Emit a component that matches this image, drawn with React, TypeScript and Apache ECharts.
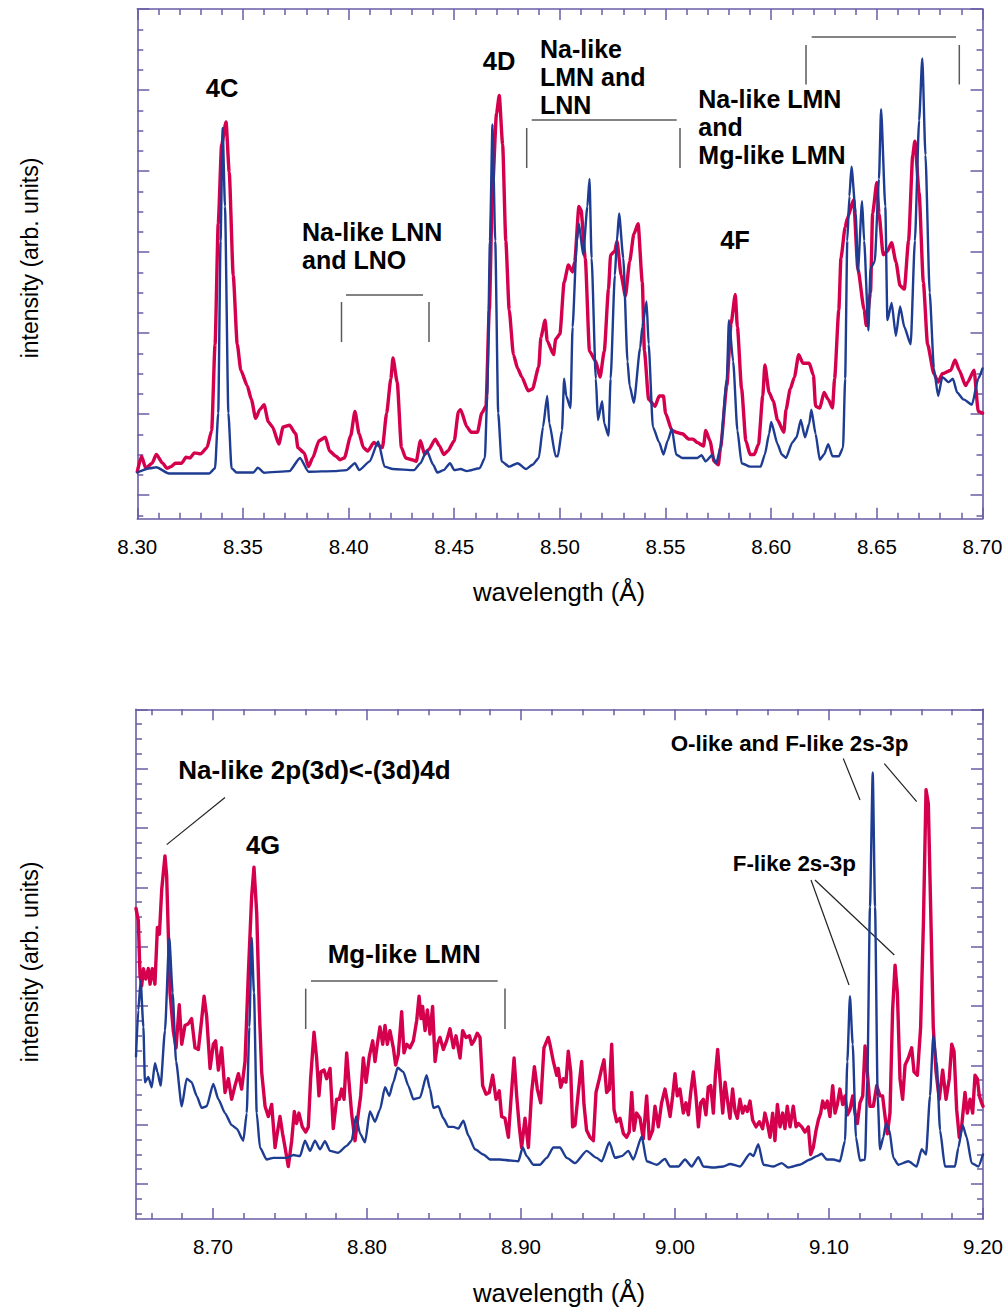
import React, { useEffect, useRef } from "react";
import * as echarts from "echarts";

// ---------- DATA (wavelength in Å, intensity in arbitrary units) ----------
const topXLabels = [8.3, 8.35, 8.4, 8.45, 8.5, 8.55, 8.6, 8.65, 8.7];
const bottomXLabels = [8.7, 8.8, 8.9, 9.0, 9.1, 9.2];
const topYMajor = [0, 4, 8, 12, 16, 20, 24];
const bottomYMajor = [0, 4, 8, 12, 16, 20, 24, 28, 32];

const topRed: number[][] = [
  [8.300,1.16],[8.302,1.92],[8.304,1.33],[8.307,1.58],[8.309,2.01],[8.312,1.58],[8.314,1.33],[8.316,1.41],[8.318,1.58],[8.321,1.58],
  [8.323,1.87],[8.325,1.84],[8.327,2.09],[8.330,2.04],[8.333,2.35],[8.3352,3.20],[8.3368,7.45],[8.3383,13.40],[8.3399,17.31],[8.3420,18.42],
  [8.3435,15.95],[8.3454,10.85],[8.3473,7.45],[8.349,6.17],[8.352,5.41],[8.354,4.73],[8.356,3.79],[8.358,4.22],[8.360,4.47],[8.362,3.62],
  [8.364,3.37],[8.367,2.52],[8.369,3.37],[8.372,3.45],[8.375,3.03],[8.376,2.35],[8.379,2.09],[8.381,1.41],[8.383,1.84],[8.386,2.69],
  [8.389,2.86],[8.391,2.18],[8.394,1.92],[8.396,1.75],[8.398,1.84],[8.401,2.94],[8.403,4.13],[8.405,3.03],[8.407,2.35],[8.409,2.18],
  [8.412,2.60],[8.413,2.52],[8.416,2.35],[8.418,4.05],[8.420,5.75],[8.421,6.77],[8.423,5.58],[8.425,2.35],[8.427,1.84],[8.430,1.75],
  [8.432,1.67],[8.434,2.69],[8.436,2.01],[8.438,2.26],[8.441,2.77],[8.443,2.43],[8.445,2.01],[8.447,2.18],[8.450,2.69],[8.452,4.13],
  [8.453,4.22],[8.456,3.37],[8.458,3.11],[8.461,3.11],[8.463,4.05],[8.4650,4.39],[8.4666,9.15],[8.4681,15.10],[8.4700,18.84],[8.4713,19.73],
  [8.4729,17.31],[8.4744,12.55],[8.4760,9.15],[8.478,6.94],[8.480,6.26],[8.482,5.83],[8.485,5.15],[8.487,5.24],[8.490,6.34],[8.491,7.79],
  [8.493,8.64],[8.494,7.62],[8.497,6.94],[8.498,7.70],[8.500,7.96],[8.502,10.51],[8.504,11.36],[8.506,11.02],[8.507,11.53],[8.509,14.25],
  [8.510,14.08],[8.512,11.70],[8.514,7.11],[8.517,6.60],[8.519,5.83],[8.521,7.11],[8.523,10.17],[8.524,11.87],[8.526,12.04],[8.527,12.55],
  [8.529,10.85],[8.531,9.83],[8.533,11.53],[8.535,12.89],[8.537,13.40],[8.539,10.51],[8.540,7.11],[8.542,4.73],[8.545,4.39],[8.547,4.90],
  [8.549,4.90],[8.550,4.05],[8.553,3.20],[8.555,3.11],[8.558,3.03],[8.561,2.77],[8.563,2.77],[8.565,2.60],[8.568,2.43],[8.569,3.20],
  [8.571,2.69],[8.573,1.67],[8.575,1.50],[8.576,2.35],[8.579,5.41],[8.581,8.47],[8.583,9.91],[8.584,8.30],[8.586,5.24],[8.588,2.69],
  [8.590,2.01],[8.592,2.01],[8.594,2.52],[8.596,4.90],[8.597,6.43],[8.599,5.07],[8.601,4.64],[8.603,3.71],[8.606,3.11],[8.607,4.22],
  [8.609,5.24],[8.611,5.83],[8.613,6.94],[8.615,6.51],[8.618,6.51],[8.620,5.92],[8.621,4.39],[8.623,4.30],[8.625,5.07],[8.627,4.73],
  [8.629,4.30],[8.630,5.75],[8.632,9.15],[8.633,11.70],[8.635,13.23],[8.636,13.66],[8.639,14.59],[8.641,11.19],[8.644,9.15],[8.645,8.38],
  [8.647,10.00],[8.648,13.91],[8.650,15.44],[8.651,13.91],[8.653,11.87],[8.655,12.04],[8.657,12.47],[8.659,11.53],[8.661,10.34],[8.663,10.17],
  [8.665,12.55],[8.667,16.80],[8.668,17.48],[8.670,14.93],[8.672,10.51],[8.674,7.45],[8.677,6.00],[8.679,5.58],[8.681,6.00],[8.685,6.17],
  [8.687,6.68],[8.689,6.17],[8.692,5.41],[8.693,5.58],[8.696,6.17],[8.698,4.13],[8.700,4.05]
];

const topBlue: number[][] = [
  [8.300,1.12],[8.306,1.33],[8.309,1.38],[8.315,1.07],[8.334,1.07],[8.3368,1.33],[8.3383,4.05],[8.3394,12.55],[8.3404,18.13],[8.3415,14.25],
  [8.3431,4.05],[8.3446,1.33],[8.347,1.12],[8.355,1.12],[8.357,1.36],[8.360,1.11],[8.372,1.19],[8.377,1.84],[8.381,1.16],[8.393,1.19],
  [8.399,1.24],[8.403,1.58],[8.405,1.24],[8.410,1.67],[8.414,2.65],[8.417,1.41],[8.421,1.29],[8.431,1.24],[8.434,1.58],[8.437,2.21],
  [8.440,1.50],[8.442,1.12],[8.445,1.24],[8.448,1.58],[8.450,1.24],[8.453,1.29],[8.456,1.19],[8.462,1.33],[8.4645,1.84],[8.4656,4.90],
  [8.4669,12.55],[8.4681,18.30],[8.4694,12.55],[8.4708,4.05],[8.4724,1.67],[8.476,1.41],[8.480,1.58],[8.484,1.29],[8.487,1.50],[8.490,1.84],
  [8.492,3.37],[8.494,4.90],[8.495,3.54],[8.498,1.92],[8.499,1.92],[8.501,3.20],[8.502,5.75],[8.503,4.90],[8.505,4.30],[8.506,8.30],
  [8.508,12.55],[8.509,13.40],[8.511,11.87],[8.513,14.25],[8.514,15.61],[8.515,11.70],[8.517,5.75],[8.518,3.71],[8.520,4.64],[8.521,3.54],
  [8.523,2.94],[8.524,5.75],[8.526,10.85],[8.527,12.55],[8.528,13.91],[8.530,11.70],[8.532,6.60],[8.533,5.41],[8.535,4.56],[8.538,7.28],
  [8.539,8.30],[8.541,9.57],[8.542,7.45],[8.544,3.37],[8.547,2.60],[8.549,2.01],[8.551,2.69],[8.553,3.28],[8.555,2.01],[8.558,1.84],
  [8.565,1.84],[8.567,1.97],[8.569,1.67],[8.572,1.97],[8.574,1.58],[8.576,2.35],[8.579,5.75],[8.580,8.64],[8.582,6.60],[8.584,3.20],
  [8.586,1.58],[8.590,1.41],[8.595,1.41],[8.597,2.01],[8.599,3.03],[8.600,3.62],[8.603,2.52],[8.605,2.01],[8.607,1.84],[8.610,2.60],
  [8.612,2.86],[8.614,3.71],[8.616,2.86],[8.618,3.54],[8.619,4.22],[8.621,3.03],[8.623,1.75],[8.625,2.01],[8.627,2.52],[8.629,1.92],
  [8.632,1.92],[8.634,2.35],[8.635,5.75],[8.636,12.55],[8.637,14.76],[8.638,16.21],[8.640,13.91],[8.641,11.02],[8.643,14.51],[8.644,12.55],
  [8.646,8.13],[8.647,11.19],[8.649,11.53],[8.651,15.61],[8.652,19.05],[8.654,14.25],[8.655,8.64],[8.657,9.49],[8.659,7.87],[8.661,9.32],
  [8.663,8.30],[8.666,7.45],[8.668,12.55],[8.670,18.50],[8.6715,21.56],[8.673,16.80],[8.675,10.00],[8.677,6.26],[8.679,4.90],[8.681,5.83],
  [8.684,5.58],[8.686,5.75],[8.688,5.07],[8.691,4.73],[8.695,4.47],[8.698,5.75],[8.700,6.26]
];

const bottomRed: number[][] = [
  [8.6500,18.58],[8.6515,17.76],[8.6526,14.05],[8.6537,13.36],[8.6548,14.52],[8.6563,13.82],[8.6580,14.52],[8.6591,13.47],[8.6606,14.52],[8.6623,13.47],
  [8.6639,17.30],[8.6652,16.84],[8.6667,19.85],[8.6688,22.12],[8.6699,20.78],[8.6721,12.89],[8.6742,10.34],[8.6760,9.18],[8.6781,12.08],[8.6797,9.42],
  [8.6818,10.69],[8.6840,10.81],[8.6861,11.15],[8.6883,9.18],[8.6905,9.07],[8.6926,11.04],[8.6942,12.66],[8.6959,11.27],[8.6981,7.79],[8.7002,9.42],
  [8.7017,9.65],[8.7035,7.68],[8.7056,9.18],[8.7078,6.17],[8.7100,7.10],[8.7121,5.71],[8.7143,6.63],[8.7165,7.44],[8.7186,6.40],[8.7208,8.26],
  [8.7229,14.05],[8.7251,19.39],[8.7266,21.36],[8.7284,18.23],[8.7301,11.73],[8.7316,7.56],[8.7338,5.24],[8.7359,4.55],[8.7381,5.36],[8.7403,2.46],
  [8.7413,3.15],[8.7435,4.55],[8.7452,3.39],[8.7468,2.46],[8.7489,1.18],[8.7511,2.92],[8.7528,4.89],[8.7543,4.08],[8.7558,4.78],[8.7580,3.85],
  [8.7602,3.50],[8.7619,3.85],[8.7634,7.10],[8.7656,10.23],[8.7673,8.49],[8.7688,5.94],[8.7701,7.56],[8.7721,7.68],[8.7738,7.10],[8.7760,7.79],
  [8.7781,3.73],[8.7803,5.71],[8.7820,5.71],[8.7835,6.40],[8.7851,5.71],[8.7868,8.84],[8.7885,6.63],[8.7900,4.78],[8.7922,2.92],[8.7944,4.78],
  [8.7959,5.94],[8.7976,8.49],[8.7994,6.86],[8.8015,8.60],[8.8037,9.65],[8.8052,8.26],[8.8067,9.42],[8.8084,10.58],[8.8102,9.42],[8.8117,10.69],
  [8.8132,9.42],[8.8149,10.34],[8.8171,9.18],[8.8186,8.02],[8.8203,8.72],[8.8225,11.62],[8.8240,8.84],[8.8258,9.42],[8.8279,9.18],[8.8301,9.65],
  [8.8323,11.04],[8.8338,12.66],[8.8351,11.15],[8.8361,11.97],[8.8377,10.34],[8.8392,11.73],[8.8409,10.11],[8.8426,11.97],[8.8442,8.26],[8.8457,9.42],
  [8.8474,9.88],[8.8496,9.07],[8.8517,9.65],[8.8539,10.46],[8.8561,9.18],[8.8578,9.99],[8.8604,8.49],[8.8621,10.34],[8.8643,9.88],[8.8665,9.99],
  [8.8680,9.42],[8.8695,9.65],[8.8716,10.16],[8.8734,9.88],[8.8751,6.63],[8.8773,6.05],[8.8794,6.17],[8.8816,7.33],[8.8838,5.71],[8.8859,6.28],
  [8.8874,4.55],[8.8896,4.43],[8.8918,3.15],[8.8935,5.71],[8.8955,8.49],[8.8972,5.94],[8.8989,3.85],[8.9004,2.46],[8.9026,4.43],[8.9048,2.46],
  [8.9069,6.17],[8.9087,7.91],[8.9106,6.40],[8.9128,5.47],[8.9149,9.18],[8.9177,9.88],[8.9188,9.42],[8.9210,8.26],[8.9232,7.33],[8.9242,7.79],
  [8.9258,6.52],[8.9275,7.10],[8.9292,6.86],[8.9307,8.95],[8.9323,7.56],[8.9335,3.85],[8.9351,3.97],[8.9372,6.17],[8.9394,8.26],[8.9409,5.36],
  [8.9426,3.62],[8.9448,3.15],[8.9470,2.92],[8.9487,6.17],[8.9509,7.10],[8.9524,7.79],[8.9539,8.37],[8.9556,6.17],[8.9574,6.40],[8.9589,9.42],
  [8.9604,5.01],[8.9621,4.20],[8.9643,4.43],[8.9665,3.39],[8.9686,3.15],[8.9703,3.50],[8.9719,6.17],[8.9734,3.62],[8.9751,4.78],[8.9773,4.43],
  [8.9794,3.04],[8.9816,5.94],[8.9833,3.04],[8.9855,3.62],[8.9870,5.24],[8.9892,3.85],[8.9913,5.47],[8.9935,6.40],[8.9950,5.59],[8.9968,4.55],
  [8.9985,5.94],[9.0000,7.44],[9.0015,5.94],[9.0032,6.40],[9.0054,4.78],[9.0071,5.47],[9.0087,4.66],[9.0102,6.17],[9.0119,7.56],[9.0136,5.94],
  [9.0152,3.85],[9.0167,5.47],[9.0184,5.71],[9.0201,4.66],[9.0216,6.52],[9.0232,6.63],[9.0249,4.78],[9.0262,7.33],[9.0277,9.07],[9.0292,7.10],
  [9.0310,4.78],[9.0325,6.86],[9.0340,5.71],[9.0357,4.43],[9.0374,6.40],[9.0390,4.89],[9.0405,4.43],[9.0422,5.71],[9.0439,4.78],[9.0455,5.24],
  [9.0470,4.89],[9.0487,5.59],[9.0504,4.32],[9.0526,3.85],[9.0548,4.20],[9.0569,3.73],[9.0584,4.78],[9.0600,4.08],[9.0617,3.15],[9.0634,4.78],
  [9.0649,2.92],[9.0665,5.36],[9.0682,3.85],[9.0699,4.78],[9.0714,3.73],[9.0729,5.24],[9.0747,3.85],[9.0768,5.24],[9.0786,3.85],[9.0801,4.08],
  [9.0823,3.85],[9.0844,3.50],[9.0866,3.85],[9.0881,1.99],[9.0898,2.46],[9.0916,3.62],[9.0931,4.32],[9.0946,4.78],[9.0959,5.59],[9.0974,5.13],
  [9.0989,5.59],[9.1006,4.55],[9.1024,6.63],[9.1039,4.78],[9.1054,5.36],[9.1071,6.40],[9.1089,5.36],[9.1104,5.94],[9.1119,4.66],[9.1136,5.01],
  [9.1154,5.94],[9.1169,4.78],[9.1184,4.08],[9.1201,5.47],[9.1219,5.94],[9.1234,9.30],[9.1249,7.56],[9.1266,5.24],[9.1288,5.24],[9.1310,6.63],
  [9.1331,5.94],[9.1348,5.94],[9.1364,4.55],[9.1379,3.39],[9.1396,4.78],[9.1413,11.73],[9.1429,14.75],[9.1444,12.89],[9.1461,7.10],[9.1478,5.71],
  [9.1494,8.02],[9.1515,8.49],[9.1537,9.18],[9.1552,7.56],[9.1574,7.33],[9.1595,10.58],[9.1613,17.53],[9.1630,26.58],[9.1645,25.65],[9.1660,18.69],
  [9.1677,10.58],[9.1695,7.56],[9.1716,5.71],[9.1738,7.68],[9.1760,5.71],[9.1781,7.10],[9.1797,9.42],[9.1812,8.95],[9.1829,5.01],[9.1846,3.15],
  [9.1861,3.85],[9.1883,6.17],[9.1898,4.78],[9.1916,5.71],[9.1933,4.78],[9.1948,7.33],[9.1963,7.10],[9.1976,5.94],[9.1991,5.47],[9.2000,5.24]
];

const bottomBlue: number[][] = [
  [8.6500,8.60],[8.6515,11.73],[8.6530,13.71],[8.6548,10.58],[8.6558,6.86],[8.6580,7.21],[8.6602,6.52],[8.6623,8.14],[8.6639,7.56],[8.6660,6.63],
  [8.6688,10.34],[8.6716,16.60],[8.6738,12.89],[8.6760,8.26],[8.6797,5.24],[8.6829,7.10],[8.6861,6.86],[8.6894,5.94],[8.6926,5.13],[8.6959,5.24],
  [8.7002,6.75],[8.7035,5.71],[8.7078,4.78],[8.7121,3.97],[8.7154,3.73],[8.7197,2.92],[8.7219,4.78],[8.7236,10.58],[8.7251,16.60],[8.7266,12.89],
  [8.7284,4.78],[8.7305,2.46],[8.7348,1.65],[8.7392,1.76],[8.7478,1.76],[8.7522,1.95],[8.7565,1.88],[8.7597,2.92],[8.7630,2.23],[8.7662,2.92],
  [8.7695,2.34],[8.7727,2.88],[8.7760,2.23],[8.7814,2.11],[8.7868,2.57],[8.7900,2.92],[8.7929,4.55],[8.7955,3.39],[8.7987,2.81],[8.8019,4.89],
  [8.8052,4.20],[8.8084,5.01],[8.8117,6.52],[8.8145,5.94],[8.8171,6.86],[8.8199,7.84],[8.8236,7.56],[8.8268,6.63],[8.8301,5.71],[8.8344,5.82],
  [8.8387,7.33],[8.8409,6.40],[8.8431,5.13],[8.8463,5.24],[8.8496,4.43],[8.8528,3.85],[8.8561,3.85],[8.8593,3.73],[8.8626,4.27],[8.8658,3.27],
  [8.8701,2.34],[8.8755,1.99],[8.8799,1.65],[8.8864,1.65],[8.8929,1.58],[8.8983,1.53],[8.9011,2.46],[8.9037,1.88],[8.9080,1.30],[8.9123,1.30],
  [8.9167,1.76],[8.9210,2.46],[8.9253,2.46],[8.9297,1.76],[8.9351,1.41],[8.9426,2.23],[8.9491,1.76],[8.9524,1.53],[8.9574,2.81],[8.9610,1.76],
  [8.9654,1.88],[8.9697,2.23],[8.9729,1.65],[8.9784,3.20],[8.9816,1.53],[8.9881,1.30],[8.9935,1.69],[8.9968,1.18],[9.0022,1.18],[9.0065,1.65],
  [9.0108,1.18],[9.0152,1.81],[9.0184,1.18],[9.0249,1.11],[9.0314,1.18],[9.0357,1.35],[9.0422,1.18],[9.0487,2.04],[9.0509,1.88],[9.0541,2.69],
  [9.0574,1.30],[9.0639,1.18],[9.0693,1.41],[9.0736,1.11],[9.0812,1.30],[9.0877,1.65],[9.0920,1.88],[9.0952,2.04],[9.0985,1.65],[9.1028,1.65],
  [9.1071,1.53],[9.1104,2.92],[9.1119,8.26],[9.1136,12.66],[9.1154,9.42],[9.1175,3.15],[9.1201,1.58],[9.1234,1.65],[9.1249,7.10],[9.1266,18.69],
  [9.1284,27.74],[9.1299,18.69],[9.1316,5.94],[9.1331,2.34],[9.1353,3.15],[9.1370,4.08],[9.1392,3.62],[9.1418,1.76],[9.1450,1.30],[9.1515,1.53],
  [9.1569,1.18],[9.1602,2.34],[9.1630,1.99],[9.1656,5.94],[9.1677,10.00],[9.1699,8.26],[9.1721,3.62],[9.1753,1.18],[9.1818,1.18],[9.1840,2.46],
  [9.1868,3.97],[9.1894,3.15],[9.1926,1.41],[9.1970,1.18],[9.2000,1.99]
];

// ---------- STYLE ----------
const AX = "#6a5ca6";
const RED = "#d5004d";
const BLUE = "#1d3c92";
const FONT = "'Liberation Sans', Arial, Helvetica, sans-serif";

function minorList(from: number, to: number, step: number, skip: number, div: number) {
  const out: number[] = [];
  for (let i = from; i <= to; i += step) if (i % skip !== 0) out.push(i / div);
  return out;
}
const topXMinor = minorList(831, 869, 1, 5, 100);
const bottomXMinor = minorList(866, 918, 2, 10, 100);
const topYMinor = minorList(-1, 23, 1, 4, 1);
const bottomYMinor = minorList(-2, 31, 1, 4, 1);

function xAx(grid: number, min: number, max: number, pos: string, ticks: number[], len: number, labels: boolean, showLine: boolean) {
  return {
    show: true, type: "value", gridIndex: grid, min, max, position: pos,
    axisLine: { show: showLine, onZero: false, lineStyle: { color: AX, width: 1.6 } },
    axisTick: { show: true, inside: true, length: len, customValues: ticks, lineStyle: { color: AX, width: 1.5 } },
    axisLabel: labels
      ? { show: true, customValues: ticks, formatter: (v: number) => v.toFixed(2), margin: 17, color: "#000", fontSize: 20.5, fontFamily: FONT }
      : { show: false },
    splitLine: { show: false },
  };
}
function yAx(grid: number, min: number, max: number, pos: string, ticks: number[], len: number, showLine: boolean) {
  return {
    show: true, type: "value", gridIndex: grid, min, max, position: pos,
    axisLine: { show: showLine, onZero: false, lineStyle: { color: AX, width: 1.6 } },
    axisTick: { show: true, inside: true, length: len, customValues: ticks, lineStyle: { color: AX, width: 1.5 } },
    axisLabel: { show: false },
    splitLine: { show: false },
  };
}

function line(x1: number, y1: number, x2: number, y2: number, color = "#5a5a5a", w = 1.5) {
  return { type: "line", silent: true, shape: { x1, y1, x2, y2 }, style: { stroke: color, lineWidth: w } };
}
function label(text: string, x: number, y: number, size = 25, lh = 28) {
  return {
    type: "text", silent: true, x, y,
    style: { text, fill: "#000", font: `bold ${size}px ${FONT}`, textAlign: "left", textVerticalAlign: "middle", lineHeight: lh },
  };
}
function clabel(text: string, x: number, y: number, size = 25.5) {
  return {
    type: "text", silent: true, x, y,
    style: { text, fill: "#000", font: `bold ${size}px ${FONT}`, textAlign: "center", textVerticalAlign: "middle" },
  };
}
function title(text: string, x: number, y: number, size: number, rot = 0) {
  return {
    type: "text", silent: true, x, y, rotation: rot,
    style: { text, fill: "#000", font: `${size}px ${FONT}`, textAlign: "center", textVerticalAlign: "middle" },
  };
}

function lineSeries(data: number[][], axis: number, color: string, width: number, smooth: number) {
  return {
    type: "line", xAxisIndex: axis, yAxisIndex: axis, data, showSymbol: false, symbol: "none", silent: true,
    smooth, smoothMonotone: "x",
    lineStyle: { color, width, join: "round", cap: "round" },
  };
}

export default function App() {
  const ref = useRef<HTMLDivElement>(null);
  useEffect(() => {
    if (!ref.current) return;
    const chart = echarts.init(ref.current, undefined, { renderer: "svg" });
    const option: any = {
      animation: false,
      backgroundColor: "#ffffff",
      grid: [
        { left: 137.3, top: 9, width: 845.2, height: 509.7, containLabel: false },
        { left: 136, top: 709.3, width: 847, height: 509.7, containLabel: false },
      ],
      // per grid: minor axes are declared first at each side, then the major ones
      xAxis: [
        xAx(0, 8.3, 8.7, "bottom", topXMinor, 6, false, false),
        xAx(0, 8.3, 8.7, "bottom", topXLabels, 11, true, true),
        xAx(0, 8.3, 8.7, "top", topXMinor, 6, false, false),
        xAx(0, 8.3, 8.7, "top", topXLabels, 11, false, true),
        xAx(1, 8.65, 9.2, "bottom", bottomXMinor, 6, false, false),
        xAx(1, 8.65, 9.2, "bottom", bottomXLabels, 11, true, true),
        xAx(1, 8.65, 9.2, "top", bottomXMinor, 6, false, false),
        xAx(1, 8.65, 9.2, "top", bottomXLabels, 11, false, true),
      ],
      yAxis: [
        yAx(0, -1.16, 24, "left", topYMinor, 6, false),
        yAx(0, -1.16, 24, "left", topYMajor, 12, true),
        yAx(0, -1.16, 24, "right", topYMinor, 6, false),
        yAx(0, -1.16, 24, "right", topYMajor, 12, true),
        yAx(1, -2.36, 32, "left", bottomYMinor, 6, false),
        yAx(1, -2.36, 32, "left", bottomYMajor, 12, true),
        yAx(1, -2.36, 32, "right", bottomYMinor, 6, false),
        yAx(1, -2.36, 32, "right", bottomYMajor, 12, true),
      ],
      series: [
        lineSeries(topRed, 1, RED, 3.4, 0.2),
        lineSeries(topBlue, 1, BLUE, 2.4, 0.2),
        lineSeries(bottomRed, 5, RED, 3.4, 0),
        lineSeries(bottomBlue, 5, BLUE, 2.4, 0.2),
      ],
      graphic: [
        // axis titles
        title("wavelength (Å)", 559, 592, 25.8),
        title("wavelength (Å)", 559, 1293, 25.8),
        title("intensity (arb. units)", 30, 258, 23, Math.PI / 2),
        title("intensity (arb. units)", 30, 962, 23, Math.PI / 2),
        // top panel annotations
        clabel("4C", 222, 88),
        clabel("4D", 499, 61),
        label("Na-like LNN\nand LNO", 302, 245.5),
        line(346, 295, 423, 295), line(341.5, 302, 341.5, 342), line(429, 302, 429, 342),
        label("Na-like\nLMN and\nLNN", 540, 76.7),
        line(531.7, 120, 676.7, 120), line(526.7, 128, 526.7, 168), line(680, 128, 680, 168),
        label("Na-like LMN\nand\nMg-like LMN", 698.3, 126.6),
        line(811.7, 37, 956, 37), line(806, 45, 806, 84.5), line(959.3, 45, 959.3, 84.5),
        clabel("4F", 735, 239.5),
        // bottom panel annotations
        label("Na-like 2p(3d)<-(3d)4d", 178.3, 770, 26),
        line(225, 797.5, 166.7, 844.6, "#222", 1.2),
        clabel("4G", 263, 845),
        label("Mg-like LMN", 327.7, 953.6, 26),
        line(311, 981, 497.7, 981), line(305.7, 988.6, 305.7, 1029), line(505, 988.6, 505, 1029),
        label("O-like and F-like 2s-3p", 670.7, 743, 22.4),
        line(843.3, 758.5, 860, 800, "#222", 1.2), line(884.3, 763.7, 916.7, 801.6, "#222", 1.2),
        label("F-like 2s-3p", 732.7, 863, 22.4),
        line(811, 880, 849, 985, "#222", 1.2), line(815, 880, 894.3, 955, "#222", 1.2),
      ],
    };
    chart.setOption(option);
    return () => chart.dispose();
  }, []);
  return <div ref={ref} style={{ position: "absolute", left: 0, top: 0, width: 1006, height: 1309, background: "#fff" }} />;
}
